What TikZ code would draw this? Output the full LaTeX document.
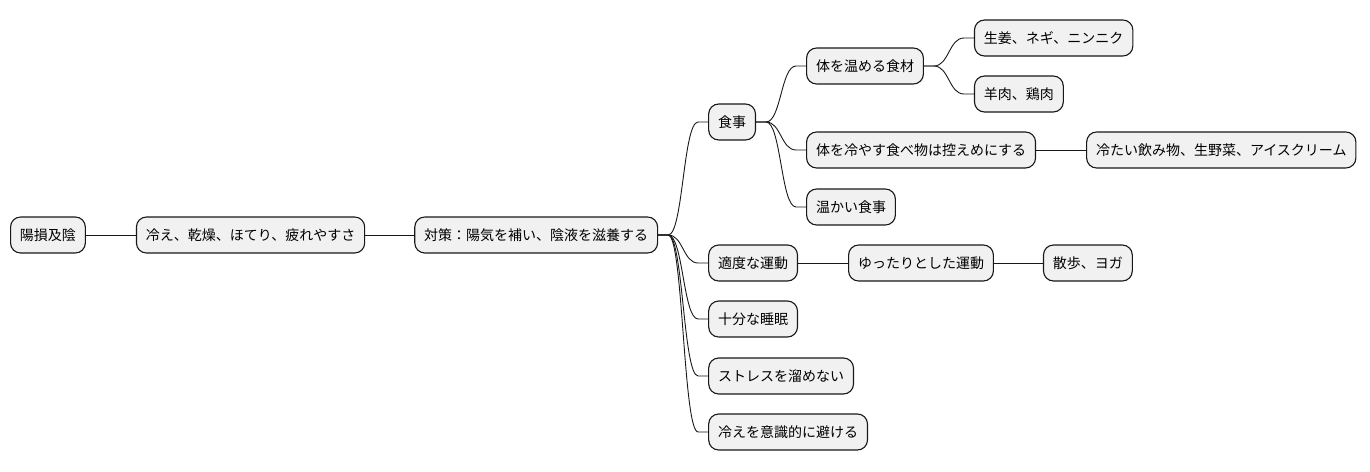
\documentclass[tikz,border=0pt]{standalone}
\usepackage{fontspec}
\setmainfont{Noto Sans CJK JP}
\usetikzlibrary{calc}
\definecolor{boxfill}{HTML}{F1F1F1}
\definecolor{boxline}{HTML}{181818}
\tikzset{
  mmbox/.style={draw=boxline, fill=boxfill, line width=1.1pt, rounded corners=10pt,
    minimum height=36pt, inner xsep=9.4pt, inner ysep=0pt, anchor=west,
    font=\fontsize{14}{16}\selectfont, text height=11.3pt, text depth=0.7pt},
  link/.style={draw=boxline, line width=0.9pt}
}
\newcommand\curvelink[2]{\draw[link] (#1.east) -- ++(10pt,0) .. controls +(15pt,0) and +(-15pt,0) .. ([xshift=-10pt]#2.west) -- (#2.west);}
\newcommand\straightlink[2]{\draw[link] (#1.east) -- (#2.west);}
\begin{document}
\begin{tikzpicture}[x=1pt,y=-1pt]
\useasboundingbox (0,0) rectangle (1370,471);
\node[mmbox] (n1) at (10,235) {陽損及陰};
\node[mmbox] (n2) at ([xshift=50pt]n1.east |- 0,235) {冷え、乾燥、ほてり、疲れやすさ};
\node[mmbox] (n3) at ([xshift=49pt]n2.east |- 0,235) {対策：陽気を補い、陰液を滋養する};
\node[mmbox] (s1) at ([xshift=50pt]n3.east |- 0,122) {食事};
\node[mmbox] (s2) at ([xshift=50pt]n3.east |- 0,263) {適度な運動};
\node[mmbox] (s3) at ([xshift=50pt]n3.east |- 0,319) {十分な睡眠};
\node[mmbox] (s4) at ([xshift=50pt]n3.east |- 0,376) {ストレスを溜めない};
\node[mmbox] (s5) at ([xshift=50pt]n3.east |- 0,432) {冷えを意識的に避ける};
\node[mmbox] (f1) at ([xshift=50pt]s1.east |- 0,66) {体を温める食材};
\node[mmbox] (f2) at ([xshift=50pt]s1.east |- 0,150) {体を冷やす食べ物は控えめにする};
\node[mmbox] (f3) at ([xshift=50pt]s1.east |- 0,207) {温かい食事};
\node[mmbox] (g1) at ([xshift=50pt]f1.east |- 0,38) {生姜、ネギ、ニンニク};
\node[mmbox] (g2) at ([xshift=50pt]f1.east |- 0,94) {羊肉、鶏肉};
\node[mmbox] (g3) at ([xshift=50pt]f2.east |- 0,150) {冷たい飲み物、生野菜、アイスクリーム};
\node[mmbox] (e1) at ([xshift=50pt]s2.east |- 0,263) {ゆったりとした運動};
\node[mmbox] (e2) at ([xshift=49pt]e1.east |- 0,263) {散歩、ヨガ};
\straightlink{n1}{n2}
\straightlink{n2}{n3}
\curvelink{n3}{s1}
\curvelink{n3}{s2}
\curvelink{n3}{s3}
\curvelink{n3}{s4}
\curvelink{n3}{s5}
\curvelink{s1}{f1}
\curvelink{s1}{f2}
\curvelink{s1}{f3}
\curvelink{f1}{g1}
\curvelink{f1}{g2}
\straightlink{f2}{g3}
\straightlink{s2}{e1}
\straightlink{e1}{e2}
\end{tikzpicture}
\end{document}
